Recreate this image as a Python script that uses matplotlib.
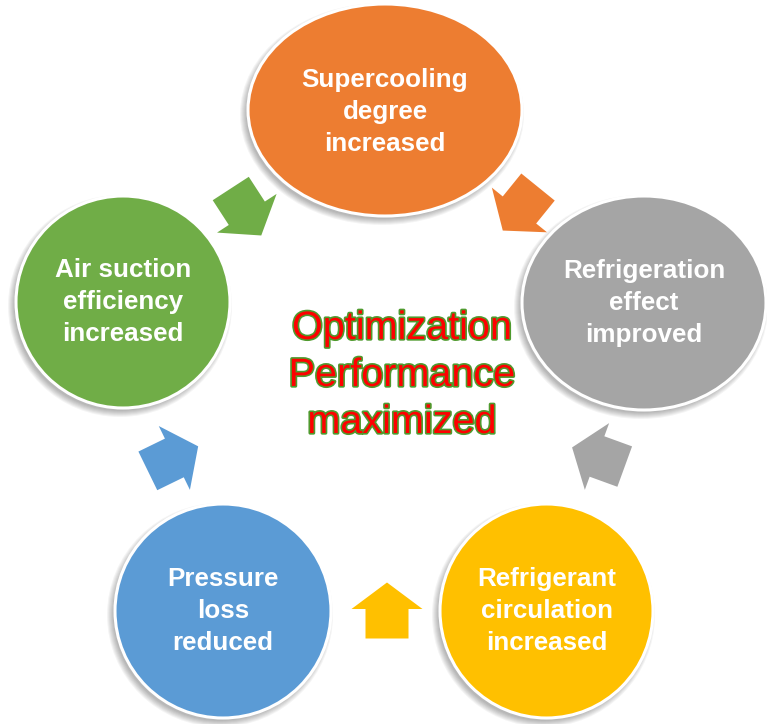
import numpy as np
import matplotlib
matplotlib.use("Agg")
import matplotlib.pyplot as plt
from matplotlib.patches import Ellipse, Polygon
import matplotlib.patheffects as pe

# ---- content ----
node_labels = [
    "Supercooling\ndegree\nincreased",
    "Refrigeration\neffect\nimproved",
    "Refrigerant\ncirculation\nincreased",
    "Pressure\nloss\nreduced",
    "Air suction\nefficiency\nincreased",
]
node_colors = ["#ED7D31", "#A5A5A5", "#FFC000", "#5B9BD5", "#70AD47"]
center_label = "Optimization\nPerformance\nmaximized"

# ---- layout (pixel space, y downward) ----
node_x = [385, 644, 546.5, 223, 123]
node_y = [110, 303, 611, 611, 302]
node_rx = [137, 122, 106.5, 108, 107]
node_ry = [106, 107, 107, 107, 106]
text_dy = [2, 0, 0, 0, 0]

arrow_colors = ["#ED7D31", "#A5A5A5", "#FFC000", "#5B9BD5", "#70AD47"]
arrow_x = [520.4, 598.4, 387, 173, 246]
arrow_y = [208.8, 457, 610.5, 458.6, 212]
arrow_angle = [231, 160, 90, 26, -57]   # degrees, math convention (y up)

W, H = 767, 724
fig = plt.figure(figsize=(W / 100, H / 100), dpi=100)
ax = fig.add_axes([0, 0, 1, 1])
ax.set_xlim(0, W)
ax.set_ylim(H, 0)
ax.set_aspect("equal")
ax.axis("off")

# shadows
for x, y, rx, ry in zip(node_x, node_y, node_rx, node_ry):
    for i in range(7):
        ax.add_patch(Ellipse((x - 3, y + 4), 2 * rx + 2 * i - 2, 2 * ry + 2 * i - 2,
                             facecolor="black", edgecolor="none", alpha=0.045, zorder=1))

# circles
for x, y, rx, ry, c, lab, dy in zip(node_x, node_y, node_rx, node_ry, node_colors,
                                    node_labels, text_dy):
    ax.add_patch(Ellipse((x, y), 2 * rx, 2 * ry, facecolor=c, edgecolor="white",
                         linewidth=2.2, zorder=2))
    ax.text(x, y + dy, lab, ha="center", va="center", color="white", fontsize=18.7,
            fontweight="bold", family="Liberation Sans", linespacing=1.42, zorder=4)

# arrows
tail, base, tip = -28.0, 1.5, 28.0
shaft_hw, head_hw = 21.5, 35.5
local = np.array([
    [tail, -shaft_hw], [base, -shaft_hw], [base, -head_hw], [tip, 0],
    [base, head_hw], [base, shaft_hw], [tail, shaft_hw],
])
for x, y, ang, c in zip(arrow_x, arrow_y, arrow_angle, arrow_colors):
    t = np.deg2rad(ang)
    d = np.array([np.cos(t), -np.sin(t)])      # image direction
    n = np.array([np.sin(t), np.cos(t)])       # perpendicular
    pts = np.array([[x, y] + p[0] * d + p[1] * n for p in local])
    ax.add_patch(Polygon(pts, closed=True, facecolor=c, edgecolor="none", zorder=3))

# center text
ax.text(402, 375, center_label, ha="center", va="center", color="#FF0000",
        fontsize=28.5, family="Liberation Sans", linespacing=1.3, zorder=5,
        path_effects=[pe.withStroke(linewidth=2.4, foreground="#4F9A2E")])

fig.savefig("out.png", dpi=100)
